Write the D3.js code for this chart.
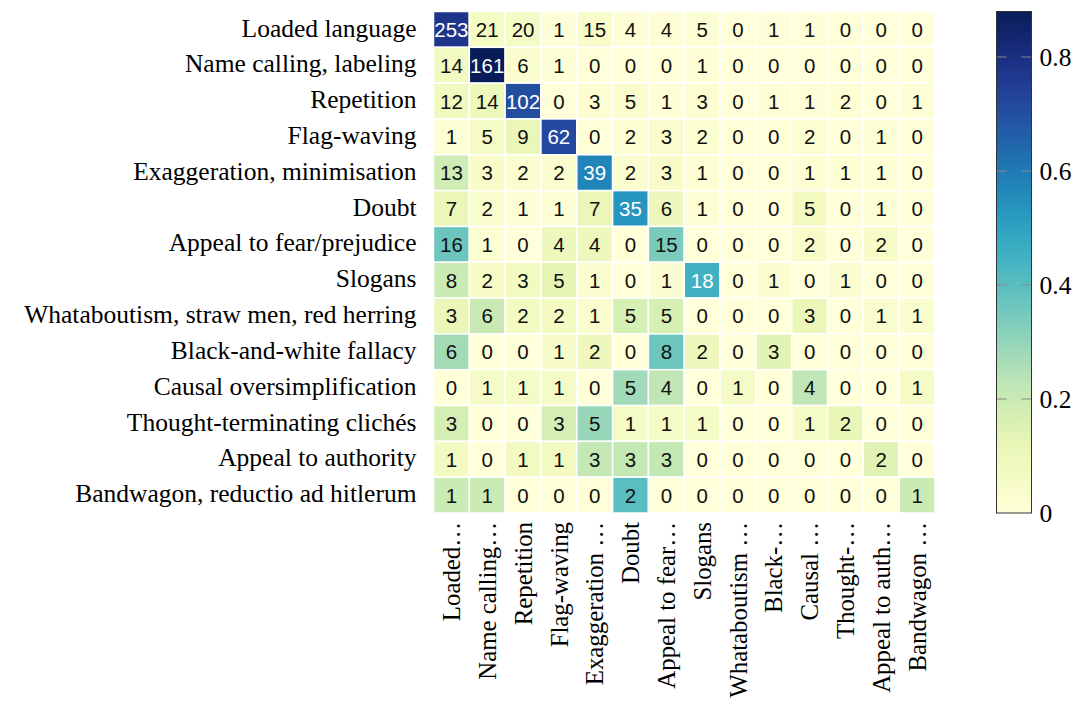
<!DOCTYPE html>
<html>
<head>
<meta charset="utf-8">
<script src="https://cdn.jsdelivr.net/npm/d3@7"></script>
<style>
  html, body { margin: 0; padding: 0; background: #fff; }
  svg { display: block; }
</style>
</head>
<body>
<svg id="chart" width="1080" height="704"></svg>
<script>
// ---- data ----
const rowLabels = [
  "Loaded language",
  "Name calling, labeling",
  "Repetition",
  "Flag-waving",
  "Exaggeration, minimisation",
  "Doubt",
  "Appeal to fear/prejudice",
  "Slogans",
  "Whataboutism, straw men, red herring",
  "Black-and-white fallacy",
  "Causal oversimplification",
  "Thought-terminating clichés",
  "Appeal to authority",
  "Bandwagon, reductio ad hitlerum"
];
const colLabels = [
  "Loaded…", "Name calling…", "Repetition", "Flag-waving", "Exaggeration …",
  "Doubt", "Appeal to fear…", "Slogans", "Whataboutism …", "Black-…",
  "Causal …", "Thought-…", "Appeal to auth…", "Bandwagon …"
];
const counts = [
  [253, 21, 20, 1, 15, 4, 4, 5, 0, 1, 1, 0, 0, 0],
  [14, 161, 6, 1, 0, 0, 0, 1, 0, 0, 0, 0, 0, 0],
  [12, 14, 102, 0, 3, 5, 1, 3, 0, 1, 1, 2, 0, 1],
  [1, 5, 9, 62, 0, 2, 3, 2, 0, 0, 2, 0, 1, 0],
  [13, 3, 2, 2, 39, 2, 3, 1, 0, 0, 1, 1, 1, 0],
  [7, 2, 1, 1, 7, 35, 6, 1, 0, 0, 5, 0, 1, 0],
  [16, 1, 0, 4, 4, 0, 15, 0, 0, 0, 2, 0, 2, 0],
  [8, 2, 3, 5, 1, 0, 1, 18, 0, 1, 0, 1, 0, 0],
  [3, 6, 2, 2, 1, 5, 5, 0, 0, 0, 3, 0, 1, 1],
  [6, 0, 0, 1, 2, 0, 8, 2, 0, 3, 0, 0, 0, 0],
  [0, 1, 1, 1, 0, 5, 4, 0, 1, 0, 4, 0, 0, 1],
  [3, 0, 0, 3, 5, 1, 1, 1, 0, 0, 1, 2, 0, 0],
  [1, 0, 1, 1, 3, 3, 3, 0, 0, 0, 0, 0, 2, 0],
  [1, 1, 0, 0, 0, 2, 0, 0, 0, 0, 0, 0, 0, 1]
];
const colorbarTicks = [0, 0.2, 0.4, 0.6, 0.8];
const colorbarTickLabels = ["0", "0.2", "0.4", "0.6", "0.8"];

// ---- derived (row-normalised) ----
const cells = [];
counts.forEach((row, i) => {
  const s = d3.sum(row);
  row.forEach((v, j) => cells.push({ r: i, c: j, count: v, frac: s ? v / s : 0 }));
});
const maxFrac = d3.max(cells, d => d.frac);

// ---- layout ----
const svg = d3.select("#chart");
const pLeft = 433.5, pRight = 935, pTop = 11.5, pBottom = 513;
const serif = "'Liberation Serif', 'Times New Roman', serif";
const sans = "'Liberation Sans', Arial, Helvetica, sans-serif";
const labelSize = 25.5;

const x = d3.scaleBand().domain(d3.range(colLabels.length)).range([pLeft, pRight]);
const y = d3.scaleBand().domain(d3.range(rowLabels.length)).range([pTop, pBottom]);
const color = d3.scaleSequential(d3.interpolateYlGnBu).domain([0, maxFrac]);

// cells
svg.append("g").selectAll("rect").data(cells).join("rect")
  .attr("x", d => x(d.c)).attr("y", d => y(d.r))
  .attr("width", x.bandwidth()).attr("height", y.bandwidth())
  .attr("fill", d => color(d.frac))
  .attr("stroke", "#fff").attr("stroke-width", 1.5);

// annotations
svg.append("g").selectAll("text").data(cells).join("text")
  .attr("x", d => x(d.c) + x.bandwidth() / 2)
  .attr("y", d => y(d.r) + y.bandwidth() / 2)
  .attr("text-anchor", "middle").attr("dominant-baseline", "central")
  .attr("font-family", sans).attr("font-size", 20.5)
  .attr("fill", d => d.frac > maxFrac / 2 ? "#fff" : "#111")
  .text(d => d.count);

// y axis labels
const yAxis = d3.axisLeft(y).tickSize(0).tickPadding(17).tickFormat(i => rowLabels[i]);
const gy = svg.append("g").attr("transform", `translate(${pLeft},0)`).call(yAxis);
gy.select(".domain").remove();
gy.selectAll("text").attr("font-family", serif).attr("font-size", labelSize).attr("fill", "#000")
  .attr("dy", "0.28em");

// x axis labels (rotated)
const xAxis = d3.axisBottom(x).tickSize(0).tickPadding(0).tickFormat(i => colLabels[i]);
const gx = svg.append("g").attr("transform", `translate(0,${pBottom})`).call(xAxis);
gx.select(".domain").remove();
gx.selectAll("text")
  .attr("font-family", serif).attr("font-size", 24.8).attr("fill", "#000")
  .attr("transform", "rotate(-90)")
  .attr("text-anchor", "end")
  .attr("x", -9).attr("y", 0).attr("dy", "0.35em");

// colorbar
const cbX = 996.5, cbW = 35;
const cbScale = d3.scaleLinear().domain([0, maxFrac]).range([pBottom, pTop]);
const defs = svg.append("defs");
const grad = defs.append("linearGradient").attr("id", "cbgrad")
  .attr("x1", 0).attr("y1", 1).attr("x2", 0).attr("y2", 0);
d3.range(0, 1.0001, 0.05).forEach(t => {
  grad.append("stop").attr("offset", t).attr("stop-color", color(t * maxFrac));
});
svg.append("rect").attr("x", cbX).attr("y", pTop).attr("width", cbW).attr("height", pBottom - pTop)
  .attr("fill", "url(#cbgrad)");
const cbTicks = svg.append("g");
colorbarTicks.forEach((t, k) => {
  if (t > 0) {
    cbTicks.append("line").attr("x1", cbX).attr("x2", cbX + 10)
      .attr("y1", cbScale(t)).attr("y2", cbScale(t)).attr("stroke", "#888").attr("stroke-width", 1);
    cbTicks.append("line").attr("x1", cbX + cbW - 10).attr("x2", cbX + cbW)
      .attr("y1", cbScale(t)).attr("y2", cbScale(t)).attr("stroke", "#888").attr("stroke-width", 1);
  }
  cbTicks.append("text").attr("x", cbX + cbW + 8).attr("y", cbScale(t))
    .attr("dy", "0.35em").attr("font-family", serif).attr("font-size", labelSize).attr("fill", "#000")
    .text(colorbarTickLabels[k]);
});
svg.append("rect").attr("x", cbX).attr("y", pTop).attr("width", cbW).attr("height", pBottom - pTop)
  .attr("fill", "none").attr("stroke", "#333").attr("stroke-width", 1);
</script>
</body>
</html>
